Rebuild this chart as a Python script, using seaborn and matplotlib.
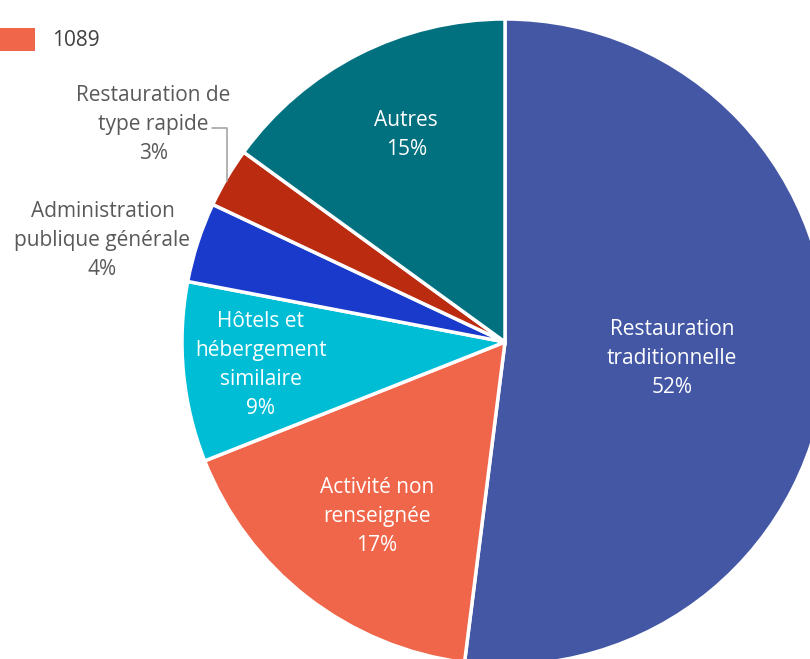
import numpy as np
import matplotlib
matplotlib.use("Agg")
import matplotlib.pyplot as plt
from matplotlib.patches import Rectangle
import seaborn as sns

sns.set_theme(style="white")
plt.rcParams['font.family'] = ['Open Sans', 'DejaVu Sans']

categories = ["Restauration\ntraditionnelle", "Activité non\nrenseignée",
              "Hôtels et\nhébergement\nsimilaire", "Administration\npublique générale",
              "Restauration de\ntype rapide", "Autres"]
values = [52, 17, 9, 4, 3, 15]
colors = ["#4357A4", "#F0664A", "#00BDD6", "#1A3ACC", "#BB2B10", "#01707F"]
label_colors = ["white", "white", "white", "#595959", "#595959", "white"]
label_radius = [0.52, 0.67, 0.76, 1.285, 1.28, 0.71]
label_angle_shift = [-2.2, 1.5, 0.0, 3.9, -1.2, -1.5]
legend_label = "1089"

W, H = 810, 659
fig = plt.figure(figsize=(W / 100, H / 100), dpi=100)
ax = fig.add_axes([0, 0, 1, 1])
cx, cy, R = 505, 342, 323

wedges, _ = ax.pie(values, colors=sns.color_palette(colors), startangle=90,
                   counterclock=False, radius=1.0,
                   wedgeprops=dict(edgecolor="white", linewidth=2.5))
ax.set_xlim(-cx / R, (W - cx) / R)
ax.set_ylim(-(H - cy) / R, cy / R)
ax.set_aspect("equal")
ax.axis("off")

fs = 15
for w, lab, v, c, r, da in zip(wedges, categories, values, label_colors,
                               label_radius, label_angle_shift):
    ang = np.deg2rad((w.theta1 + w.theta2) / 2 + da)
    x, y = r * np.cos(ang), r * np.sin(ang)
    ax.text(x, y, f"{lab}\n{v}%", ha="center", va="center", color=c,
            fontsize=fs, linespacing=1.5)

# leader line for small slice "Restauration de type rapide"
w = wedges[4]
ang = np.deg2rad((w.theta1 + w.theta2) / 2)
ex, ey = np.cos(ang), np.sin(ang)
ax.plot([ex, ex, ex - 0.045], [ey - 0.01, ey + 0.155, ey + 0.155], color="#A6A6A6", lw=1.2)

# legend
fig.add_artist(Rectangle((-2 / W, 1 - 51 / H), 37 / W, 23 / H, transform=fig.transFigure,
                         facecolor=colors[1], edgecolor="none"))
fig.text(52 / W, 1 - 40 / H, legend_label, ha="left", va="center", fontsize=fs, color="#404040")

fig.savefig("out.png", dpi=100)
